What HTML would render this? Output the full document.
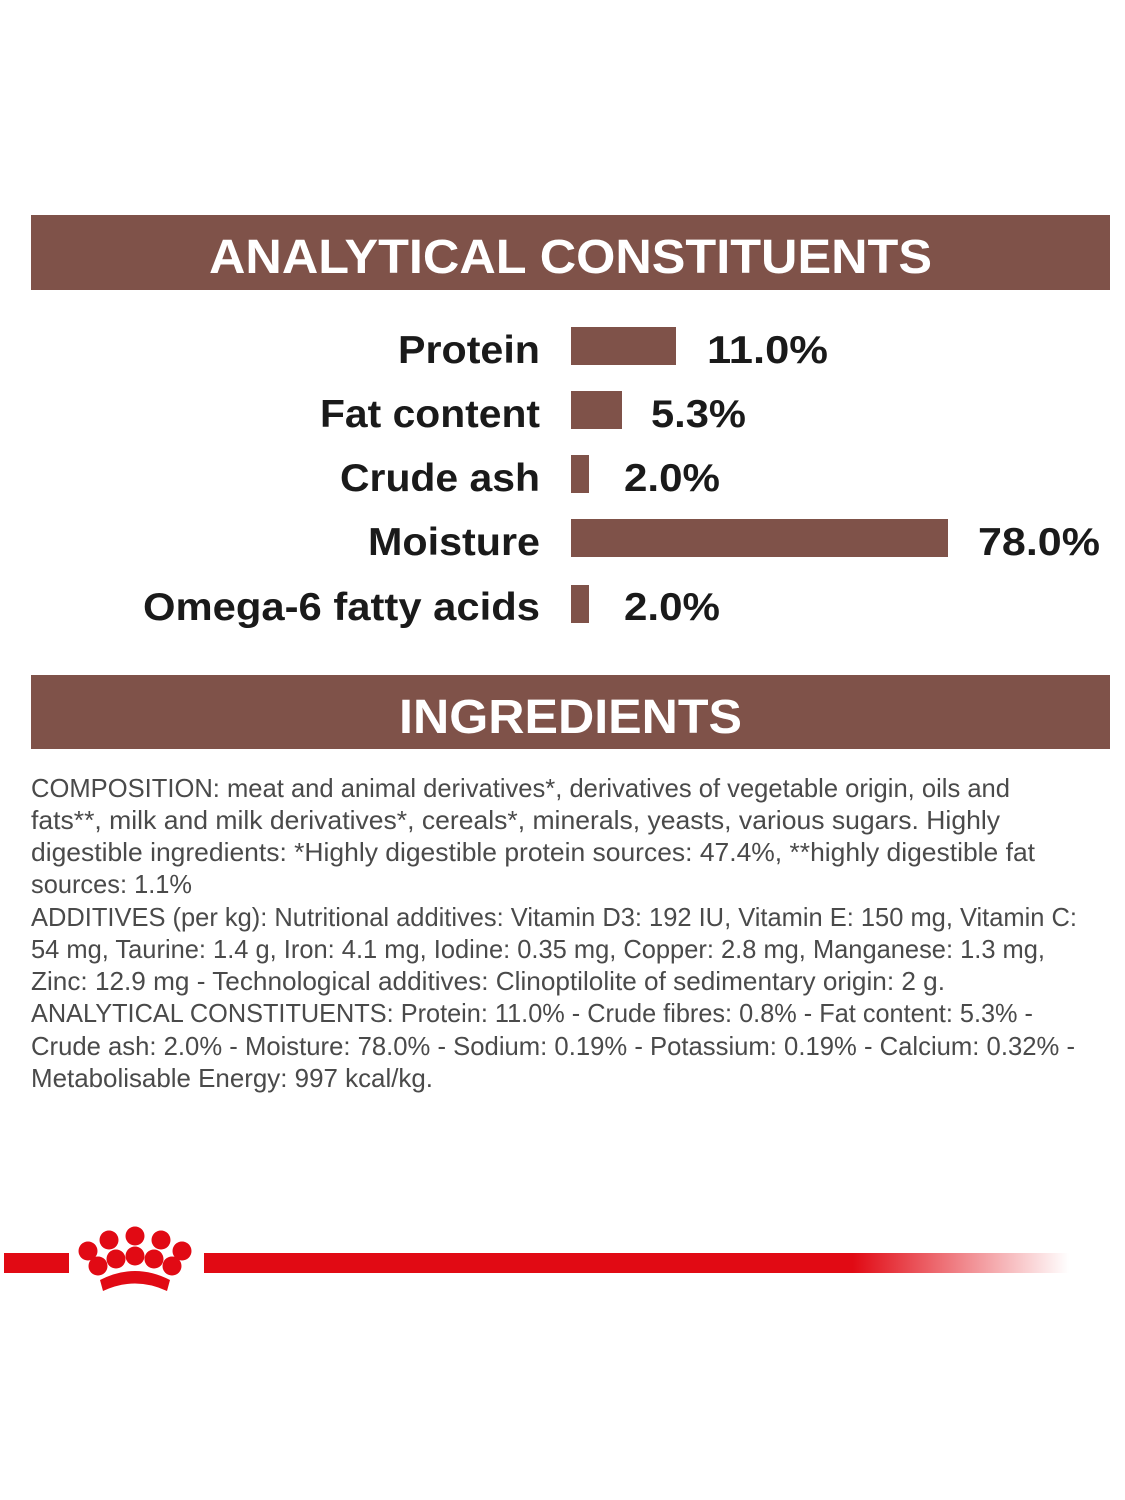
<!DOCTYPE html>
<html><head><meta charset="utf-8"><style>
html,body{margin:0;padding:0;background:#fff;}
svg{display:block;}
</style></head><body>
<svg width="1125" height="1500" viewBox="0 0 1125 1500" xmlns="http://www.w3.org/2000/svg">
<defs>
<linearGradient id="fade" x1="0" x2="1" y1="0" y2="0">
<stop offset="0" stop-color="#e10a14"/>
<stop offset="0.75" stop-color="#e10a14"/>
<stop offset="1" stop-color="#e10a14" stop-opacity="0"/>
</linearGradient>
</defs>
<rect x="31" y="215" width="1079" height="75" fill="#7f5249"/>
<text x="209" y="273" textLength="723" lengthAdjust="spacingAndGlyphs" font-family="Liberation Sans, sans-serif" font-weight="bold" font-size="48" fill="#fff">ANALYTICAL CONSTITUENTS</text>
<g font-family="Liberation Sans, sans-serif" font-weight="bold" font-size="39" fill="#1a1a1a">
<text x="398" y="363" textLength="142" lengthAdjust="spacingAndGlyphs">Protein</text>
<text x="320" y="427" textLength="220" lengthAdjust="spacingAndGlyphs">Fat content</text>
<text x="340" y="491" textLength="200" lengthAdjust="spacingAndGlyphs">Crude ash</text>
<text x="368" y="555" textLength="172" lengthAdjust="spacingAndGlyphs">Moisture</text>
<text x="143" y="620" textLength="397" lengthAdjust="spacingAndGlyphs">Omega-6 fatty acids</text>
<text x="707" y="363" textLength="121" lengthAdjust="spacingAndGlyphs">11.0%</text>
<text x="651" y="427" textLength="95" lengthAdjust="spacingAndGlyphs">5.3%</text>
<text x="624" y="491" textLength="96" lengthAdjust="spacingAndGlyphs">2.0%</text>
<text x="978" y="555" textLength="122" lengthAdjust="spacingAndGlyphs">78.0%</text>
<text x="624" y="620" textLength="96" lengthAdjust="spacingAndGlyphs">2.0%</text>
</g>
<g fill="#7f5249">
<rect x="571" y="327" width="105" height="38"/>
<rect x="571" y="391" width="51" height="38"/>
<rect x="571" y="455" width="18" height="38"/>
<rect x="571" y="519" width="377" height="38"/>
<rect x="571" y="585" width="18" height="38"/>
</g>
<rect x="31" y="675" width="1079" height="74" fill="#7f5249"/>
<text x="399" y="733" textLength="343" lengthAdjust="spacingAndGlyphs" font-family="Liberation Sans, sans-serif" font-weight="bold" font-size="48" fill="#fff">INGREDIENTS</text>
<g font-family="Liberation Sans, sans-serif" font-size="26" fill="#4a4a4a">
<text x="31" y="797" textLength="979" lengthAdjust="spacingAndGlyphs">COMPOSITION: meat and animal derivatives*, derivatives of vegetable origin, oils and</text>
<text x="31" y="829" textLength="969" lengthAdjust="spacingAndGlyphs">fats**, milk and milk derivatives*, cereals*, minerals, yeasts, various sugars. Highly</text>
<text x="31" y="861" textLength="1004" lengthAdjust="spacingAndGlyphs">digestible ingredients: *Highly digestible protein sources: 47.4%, **highly digestible fat</text>
<text x="31" y="893" textLength="161" lengthAdjust="spacingAndGlyphs">sources: 1.1%</text>
<text x="31" y="926" textLength="1046" lengthAdjust="spacingAndGlyphs">ADDITIVES (per kg): Nutritional additives: Vitamin D3: 192 IU, Vitamin E: 150 mg, Vitamin C:</text>
<text x="31" y="958" textLength="1014" lengthAdjust="spacingAndGlyphs">54 mg, Taurine: 1.4 g, Iron: 4.1 mg, Iodine: 0.35 mg, Copper: 2.8 mg, Manganese: 1.3 mg,</text>
<text x="31" y="990" textLength="914" lengthAdjust="spacingAndGlyphs">Zinc: 12.9 mg - Technological additives: Clinoptilolite of sedimentary origin: 2 g.</text>
<text x="31" y="1022" textLength="1002" lengthAdjust="spacingAndGlyphs">ANALYTICAL CONSTITUENTS: Protein: 11.0% - Crude fibres: 0.8% - Fat content: 5.3% -</text>
<text x="31" y="1055" textLength="1044" lengthAdjust="spacingAndGlyphs">Crude ash: 2.0% - Moisture: 78.0% - Sodium: 0.19% - Potassium: 0.19% - Calcium: 0.32% -</text>
<text x="31" y="1087" textLength="402" lengthAdjust="spacingAndGlyphs">Metabolisable Energy: 997 kcal/kg.</text>
</g>
<rect x="4" y="1253" width="65" height="20" fill="#e10a14"/>
<rect x="204" y="1253" width="865" height="20" fill="url(#fade)"/>
<g fill="#e10a14">
<circle cx="88" cy="1251" r="9.5"/>
<circle cx="109" cy="1240" r="9.5"/>
<circle cx="135" cy="1236" r="9.5"/>
<circle cx="161" cy="1240" r="9.5"/>
<circle cx="182" cy="1251" r="9.5"/>
<circle cx="98" cy="1266" r="9.5"/>
<circle cx="116" cy="1259" r="9.5"/>
<circle cx="135" cy="1256" r="9.5"/>
<circle cx="154" cy="1259" r="9.5"/>
<circle cx="172" cy="1266" r="9.5"/>
</g>
<path d="M100 1280 Q135 1262 170 1280 L167 1291 Q135 1276 103 1291 Z" fill="#e10a14"/>
</svg>
</body></html>
